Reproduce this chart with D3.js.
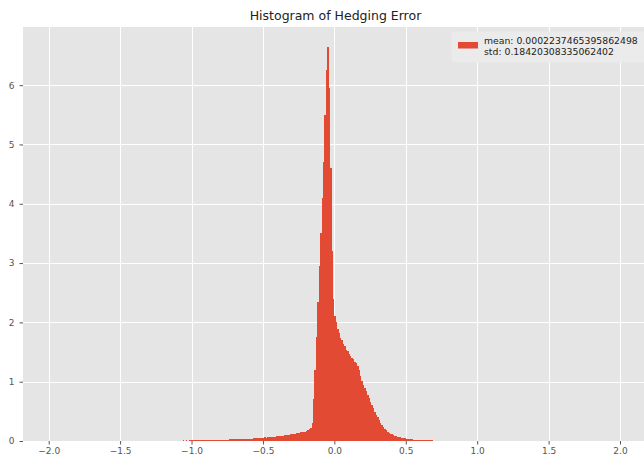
<!DOCTYPE html>
<html>
<head>
<meta charset="utf-8">
<script src="https://cdn.jsdelivr.net/npm/d3@7"></script>
<style>
  html, body { margin: 0; padding: 0; background: #ffffff; }
  svg { display: block; font-family: "DejaVu Sans", sans-serif; }
</style>
</head>
<body>
<svg id="chart" width="644" height="459"></svg>
<script>
// Histogram bins: uniform width, starting at binStart
const binStart = -1.20;
const binWidth = 0.01;
const density = [
  0.004, 0.003, 0.005, 0.004, 0.006, 0.004, 0.005, 0.006, 0.005, 0.007,
  0.006, 0.008, 0.007, 0.006, 0.009, 0.008, 0.010, 0.007, 0.009, 0.011,
  0.010, 0.012, 0.011, 0.013, 0.012, 0.014, 0.013, 0.015, 0.014, 0.016,
  0.015, 0.017, 0.016, 0.018, 0.017, 0.019, 0.020, 0.018, 0.021, 0.020,
  0.022, 0.021, 0.024, 0.023, 0.025, 0.024, 0.027, 0.026, 0.028, 0.027,
  0.029, 0.031, 0.030, 0.033, 0.032, 0.035, 0.034, 0.037, 0.036, 0.039,
  0.040, 0.042, 0.041, 0.045, 0.044, 0.048, 0.047, 0.051, 0.050, 0.054,
  0.056, 0.060, 0.058, 0.063, 0.066, 0.064, 0.070, 0.073, 0.071, 0.078,
  0.082, 0.080, 0.088, 0.092, 0.090, 0.097, 0.102, 0.099, 0.108, 0.113,
  0.118, 0.124, 0.121, 0.132, 0.138, 0.134, 0.145, 0.152, 0.149, 0.160,
  0.172, 0.185, 0.198, 0.225, 0.300, 0.700, 1.200, 1.750, 2.350, 2.950,
  3.500, 4.100, 4.700, 5.500, 6.250, 6.650, 5.950, 4.600, 3.200, 2.400,
  2.100, 2.000, 1.880, 1.820, 1.740, 1.700, 1.630, 1.600, 1.540, 1.510,
  1.460, 1.440, 1.400, 1.390, 1.340, 1.310, 1.260, 1.190, 1.100, 1.020,
  0.950, 0.900, 0.850, 0.780, 0.720, 0.660, 0.600, 0.550, 0.490, 0.440,
  0.400, 0.350, 0.310, 0.270, 0.240, 0.210, 0.180, 0.160, 0.140, 0.120,
  0.110, 0.100, 0.090, 0.080, 0.070, 0.065, 0.060, 0.055, 0.050, 0.045,
  0.040, 0.036, 0.033, 0.030, 0.027, 0.025, 0.022, 0.020, 0.018, 0.017,
  0.015, 0.014, 0.013, 0.012, 0.011, 0.010, 0.010, 0.009, 0.009, 0.008,
  0.008, 0.007, 0.007, 0.006, 0.006, 0.006, 0.005, 0.005, 0.005, 0.005,
  0.004, 0.004, 0.004, 0.004, 0.003, 0.003, 0.003, 0.003, 0.003, 0.003,
  0.002, 0.003, 0.002, 0.002, 0.002, 0.002, 0.002, 0.001, 0.002, 0.001
];

const xTicks = [-2.0, -1.5, -1.0, -0.5, 0.0, 0.5, 1.0, 1.5, 2.0];
const yTicks = [0, 1, 2, 3, 4, 5, 6];
const titleText = "Histogram of Hedging Error";
const legendLines = ["mean: 0.0002237465395862498", "std: 0.18420308335062402"];

const xDomain = [-2.18, 2.21];
const yDomain = [0, 6.98];

const plot = { left: 23, right: 650, top: 27, bottom: 441 };
const barColor = "#E24A33";
const panelColor = "#E5E5E5";
const tickColor = "#555555";

const svg = d3.select("#chart");

const x = d3.scaleLinear().domain(xDomain).range([plot.left, plot.right]);
const y = d3.scaleLinear().domain(yDomain).range([plot.bottom, plot.top]);

// panel background
svg.append("rect")
  .attr("x", plot.left).attr("y", plot.top)
  .attr("width", plot.right - plot.left).attr("height", plot.bottom - plot.top)
  .attr("fill", panelColor);

// grid lines
const grid = svg.append("g").attr("stroke", "#ffffff").attr("stroke-width", 1);
grid.selectAll("line.gx").data(xTicks).join("line")
  .attr("class", "gx")
  .attr("x1", d => Math.round(x(d)) + 0.5).attr("x2", d => Math.round(x(d)) + 0.5)
  .attr("y1", plot.top).attr("y2", plot.bottom);
grid.selectAll("line.gy").data(yTicks).join("line")
  .attr("class", "gy")
  .attr("y1", d => Math.round(y(d)) + 0.5).attr("y2", d => Math.round(y(d)) + 0.5)
  .attr("x1", plot.left).attr("x2", plot.right);

// histogram bars
const bins = density.map((v, i) => ({ x0: binStart + i * binWidth, x1: binStart + (i + 1) * binWidth, v }));
svg.append("g")
  .attr("shape-rendering", "crispEdges")
  .selectAll("rect").data(bins).join("rect")
  .attr("x", d => x(d.x0))
  .attr("width", d => x(d.x1) - x(d.x0))
  .attr("y", d => y(d.v))
  .attr("height", d => y(0) - y(d.v))
  .attr("fill", barColor);

// axes
const xAxis = d3.axisBottom(x).tickValues(xTicks).tickFormat(d3.format(".1f")).tickSize(3.5).tickPadding(3);
const yAxis = d3.axisLeft(y).tickValues(yTicks).tickFormat(d3.format("d")).tickSize(3.5).tickPadding(5);

const gx = svg.append("g").attr("transform", `translate(0,${plot.bottom})`).call(xAxis);
const gy = svg.append("g").attr("transform", `translate(${plot.left},0)`).call(yAxis);
[gx, gy].forEach(g => {
  g.select(".domain").remove();
  g.selectAll(".tick line").attr("stroke", tickColor);
  g.selectAll(".tick text").attr("fill", tickColor)
    .style("font-family", "DejaVu Sans").style("font-size", "9px");
});
gx.selectAll(".tick text").text(d => d3.format(".1f")(d).replace("-", "\u2212"));

// title
svg.append("text")
  .attr("x", (plot.left + plot.right) / 2 - 1)
  .attr("y", 20)
  .attr("text-anchor", "middle")
  .attr("fill", "#222222")
  .style("font-size", "12.5px")
  .text(titleText);

// legend
const leg = svg.append("g");
leg.append("rect")
  .attr("x", 452).attr("y", 32).attr("width", 196).attr("height", 30)
  .attr("rx", 2)
  .attr("fill", "#EBEBEB").attr("stroke", "#EBEBEB");
leg.append("rect")
  .attr("x", 458).attr("y", 42).attr("width", 20).attr("height", 6.5)
  .attr("fill", barColor);
leg.selectAll("text").data(legendLines).join("text")
  .attr("x", 484)
  .attr("y", (d, i) => 44 + i * 11)
  .attr("fill", "#222222")
  .style("font-size", "9.3px")
  .text(d => d);
</script>
</body>
</html>
